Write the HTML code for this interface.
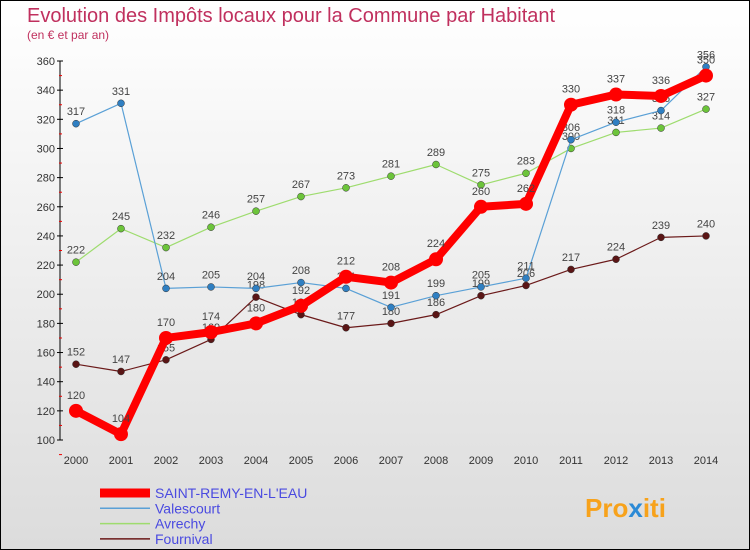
<!DOCTYPE html>
<html><head><meta charset="utf-8"><style>
body{margin:0;width:750px;height:550px;overflow:hidden;font-family:"Liberation Sans",sans-serif}
#wrap{position:absolute;left:0;top:0;width:748px;height:548px;border:1px solid #000;background:linear-gradient(#fff,#dcdcdc)}
</style></head><body>
<div id="wrap">
<svg width="750" height="550" style="position:absolute;left:-1px;top:-1px" id="svg">
<text x="27" y="22" font-size="20" fill="#c0305e">Evolution des Impôts locaux pour la Commune par Habitant</text>
<text x="27" y="39" font-size="12" fill="#c0305e">(en € et par an)</text>
<g id="axes"></g><g id="series"></g><g id="legend"></g>
<text x="585" y="517" font-size="26" font-weight="bold" fill="#f7a21b">Pro<tspan fill="#2b8ad6">x</tspan>iti</text>
</svg></div>
<script>
const years=[2000,2001,2002,2003,2004,2005,2006,2007,2008,2009,2010,2011,2012,2013,2014];
const yTicks=[100,120,140,160,180,200,220,240,260,280,300,320,340,360];
const stRemy=[120,104,170,174,180,192,212,208,224,260,262,330,337,336,350];
const valescourt=[317,331,204,205,204,208,204,191,199,205,211,306,318,326,356];
const avrechy=[222,245,232,246,257,267,273,281,289,275,283,300,311,314,327];
const fournival=[152,147,155,169,198,186,177,180,186,199,206,217,224,239,240];
const NS="http://www.w3.org/2000/svg";
const xS=i=>76+i*45, yS=v=>440-(v-100)*379/260;
function mk(t,a,p){const e=document.createElementNS(NS,t);for(const k in a)e.setAttribute(k,a[k]);p.appendChild(e);return e;}
const ax=document.getElementById('axes');
let l=mk('line',{x1:60,y1:61,x2:60,y2:440,stroke:'#000'},ax);


yTicks.forEach(v=>{const y=yS(v);
 mk('line',{x1:57,y1:y,x2:63,y2:y,stroke:'#000'},ax);
 mk('line',{x1:59,y1:y+14.6,x2:62,y2:y+14.6,stroke:'#e00'},ax);
 const t=mk('text',{x:55,y:y+4,'font-size':11,'text-anchor':'end',fill:'#333'},ax);t.textContent=v;
 
 });
years.forEach((yr,i)=>{const t=mk('text',{x:xS(i),y:464,'font-size':11,'text-anchor':'middle',fill:'#333'},ax);t.textContent=yr;
 
 });
const se=document.getElementById('series');
const S=[[fournival,'#6b1a1a','#5a1515',1.2,3.5,'Fournival'],[avrechy,'#9edc6e','#6cc43a',1.2,3.5,'Avrechy'],[valescourt,'#5aa0d6','#2f7fc2',1.2,3.5,'Valescourt'],[stRemy,'#f00','#f00',8,7,'SAINT-REMY-EN-L\'EAU']];
S.forEach(([d,c,dc,w,r,n])=>{const g=mk('g',{},se);
 
 
 mk('polyline',{points:d.map((v,i)=>xS(i)+','+yS(v)).join(' '),fill:'none',stroke:c,'stroke-width':w,'stroke-linejoin':'round'},g);
 d.forEach((v,i)=>{const p=mk('circle',{cx:xS(i),cy:yS(v),r:r,fill:dc,stroke:w>2?'none':'#333','stroke-width':0.5},g);
  
  
  const t=mk('text',{x:xS(i),y:yS(v)-r-5,'font-size':11,'text-anchor':'middle',fill:'#444'},g);t.textContent=v;
  
  });});
const lg=document.getElementById('legend');
[[stRemy,'#f00',9,'SAINT-REMY-EN-L\'EAU'],[0,'#5aa0d6',1.5,'Valescourt'],[0,'#9edc6e',1.5,'Avrechy'],[0,'#6b1a1a',1.5,'Fournival']].forEach(([_,c,w,n],k)=>{const y=493+k*15.3;
 const g=mk('g',{},lg);
 
 
 mk('line',{x1:100,y1:y,x2:150,y2:y,stroke:c,'stroke-width':w},g);
 const t=mk('text',{x:155,y:y+5,'font-size':14,fill:'#4a4ae0'},g);t.textContent=n;});
</script></body></html>
